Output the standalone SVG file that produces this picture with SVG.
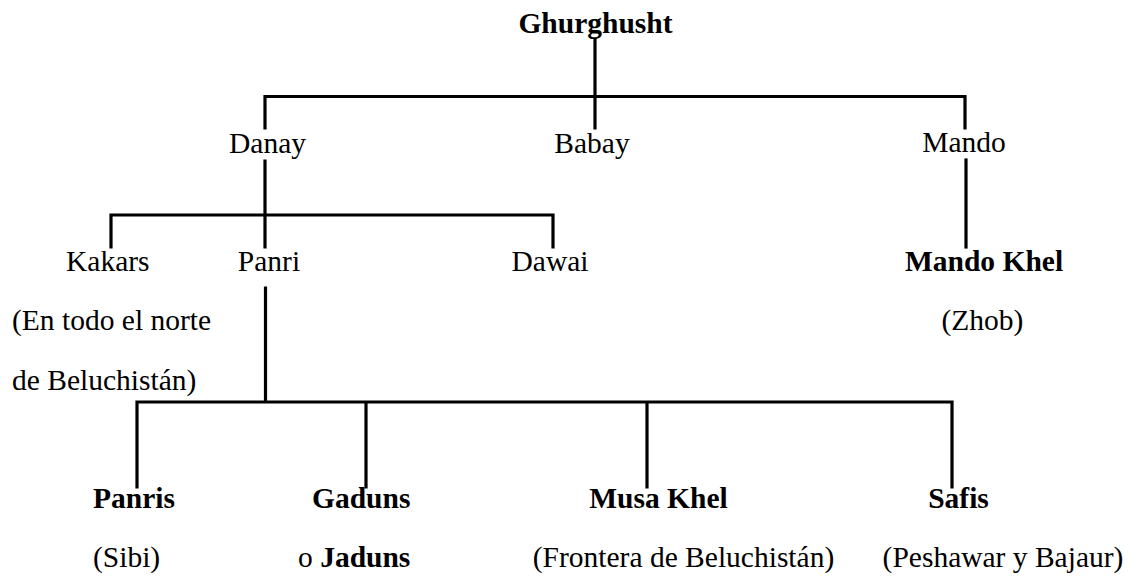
<svg xmlns="http://www.w3.org/2000/svg" width="1133" height="576" viewBox="0 0 1133 576">
<style>
.b{font-weight:bold}
.c{text-anchor:middle}
#connectors path{stroke:#000;stroke-width:3.2;fill:none;stroke-linecap:square}
</style>
<rect width="1133" height="576" fill="#fff"/>
<g id="connectors">
<path d="M595 39V128M265 96.5H965M265 96.5V128M965 96.5V128"/>
<path d="M265 161V247M111 215H553M111 215V247M553 215V247"/>
<path d="M966 160V247"/>
<path d="M265.5 288V402M137 402H952M137 402V487M366 402V487M647 402V487M952 402V487"/>
</g>
<g id="nodes" font-size="29.5" fill="#000">
<g id="n-ghurghusht"><text style="font-family:'Liberation Serif',serif" class="b c" x="595.5" y="33">Ghurghusht</text></g>
<g id="n-danay"><text style="font-family:'Liberation Serif',serif" class="c" x="267.5" y="153">Danay</text></g>
<g id="n-babay"><text style="font-family:'Liberation Serif',serif" class="c" x="592" y="153">Babay</text></g>
<g id="n-mando"><text style="font-family:'Liberation Serif',serif" class="c" x="964" y="152">Mando</text></g>
<g id="n-kakars"><text style="font-family:'Liberation Serif',serif" x="66" y="271">Kakars</text><text style="font-family:'Liberation Serif',serif" x="12" y="330">(En todo el norte</text><text style="font-family:'Liberation Serif',serif" x="12" y="390">de Beluchistán)</text></g>
<g id="n-panri"><text style="font-family:'Liberation Serif',serif" class="c" x="269" y="271">Panri</text></g>
<g id="n-dawai"><text style="font-family:'Liberation Serif',serif" class="c" x="550" y="271">Dawai</text></g>
<g id="n-mandokhel"><text style="font-family:'Liberation Serif',serif" class="b c" x="984" y="271">Mando Khel</text><text style="font-family:'Liberation Serif',serif" class="c" x="982.5" y="330">(Zhob)</text></g>
<g id="n-panris"><text style="font-family:'Liberation Serif',serif" class="b" x="93" y="508">Panris</text><text style="font-family:'Liberation Serif',serif" x="93" y="567">(Sibi)</text></g>
<g id="n-gaduns"><text style="font-family:'Liberation Serif',serif" class="b" x="312" y="508">Gaduns</text><text style="font-family:'Liberation Serif',serif" x="298" y="567">o <tspan class="b">Jaduns</tspan></text></g>
<g id="n-musakhel"><text style="font-family:'Liberation Serif',serif" class="b c" x="658.5" y="508">Musa Khel</text><text style="font-family:'Liberation Serif',serif" class="c" x="683.5" y="567">(Frontera de Beluchistán)</text></g>
<g id="n-safis"><text style="font-family:'Liberation Serif',serif" class="b c" x="958.5" y="508">Safis</text><text style="font-family:'Liberation Serif',serif" class="c" x="1003" y="567">(Peshawar y Bajaur)</text></g>
</g>
</svg>
